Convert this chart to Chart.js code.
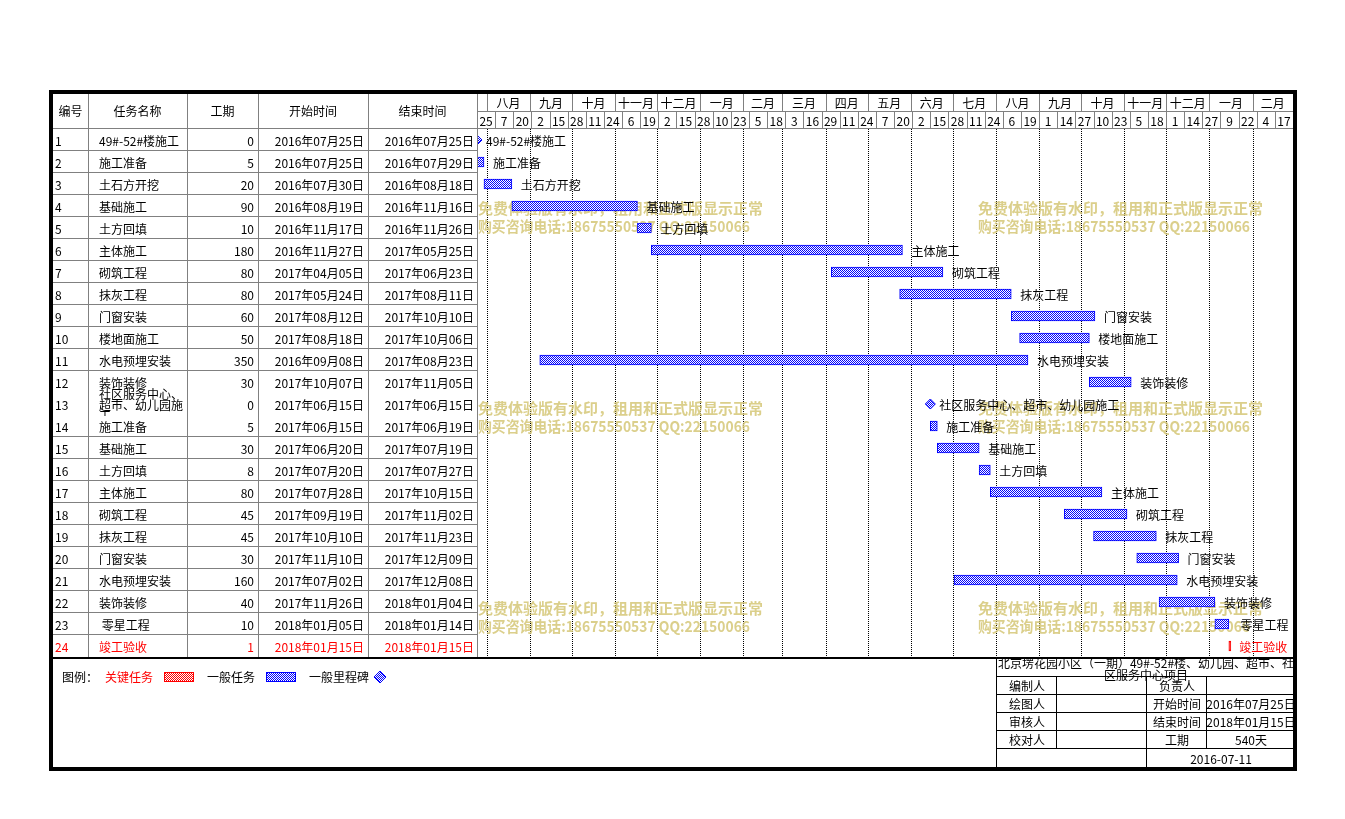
<!DOCTYPE html>
<html><head><meta charset="utf-8">
<script src="https://cdn.jsdelivr.net/npm/chart.js@4.4.0/dist/chart.umd.min.js"></script>
<style>html,body{margin:0;padding:0;background:#fff;}#wrap{width:1345px;height:819px;position:relative;}</style>
</head><body><div id="wrap"><canvas id="c"></canvas></div>
<script>
// ---------- DATA ----------
const ids = ['1','2','3','4','5','6','7','8','9','10','11','12','13','14','15','16','17','18','19','20','21','22','23','24'];
const names = ['49#-52#楼施工','施工准备','土石方开挖','基础施工','土方回填','主体施工','砌筑工程','抹灰工程','门窗安装','楼地面施工','水电预埋安装','装饰装修','社区服务中心、超市、幼儿园施工','施工准备','基础施工','土方回填','主体施工','砌筑工程','抹灰工程','门窗安装','水电预埋安装','装饰装修',' 零星工程','竣工验收'];
const durations = [0,5,20,90,10,180,80,80,60,50,350,30,0,5,30,8,80,45,45,30,160,40,10,1];
const startDates = ['2016-07-25','2016-07-25','2016-07-30','2016-08-19','2016-11-17','2016-11-27','2017-04-05','2017-05-24','2017-08-12','2017-08-18','2016-09-08','2017-10-07','2017-06-15','2017-06-15','2017-06-20','2017-07-20','2017-07-28','2017-09-19','2017-10-10','2017-11-10','2017-07-02','2017-11-26','2018-01-05','2018-01-15'];
const endDates = ['2016-07-25','2016-07-29','2016-08-18','2016-11-16','2016-11-26','2017-05-25','2017-06-23','2017-08-11','2017-10-10','2017-10-06','2017-08-23','2017-11-05','2017-06-15','2017-06-19','2017-07-19','2017-07-27','2017-10-15','2017-11-02','2017-11-23','2017-12-09','2017-12-08','2018-01-04','2018-01-14','2018-01-15'];
const criticalRows = ['24'];
const monthLabels = ['八月','九月','十月','十一月','十二月','一月','二月','三月','四月','五月','六月','七月','八月','九月','十月','十一月','十二月','一月','二月'];
const dayTicks = [25,7,20,2,15,28,11,24,6,19,2,15,28,10,23,5,18,3,16,29,11,24,7,20,2,15,28,11,24,6,19,1,14,27,10,23,5,18,1,14,27,9,22,4,17];
const headers = ['编号','任务名称','工期','开始时间','结束时间'];
const projectTitle = '北京塄花园小区（一期）49#-52#楼、幼儿园、超市、社区服务中心项目';
const infoLeft = ['编制人','绘图人','审核人','校对人'];
const infoRightLabels = ['负责人','开始时间','结束时间','工期'];
const infoRightValues = ['','2016年07月25日','2018年01月15日','540天'];
const printDate = '2016-07-11';
const legendItems = ['关键任务','一般任务','一般里程碑'];
const watermark1 = '免费体验版有水印，租用和正式版显示正常';
const watermark2 = '购买咨询电话:18675550537 QQ:22150066';

// ---------- helpers ----------
const ORIGIN = Date.UTC(2016,6,25);
function dayOf(s){const p=s.split('-').map(Number);return (Date.UTC(p[0],p[1]-1,p[2])-ORIGIN)/86400000;}
const SPAN_DAYS = dayTicks.length*13;
function fmtDate(s){const p=s.split('-');return p[0]+'年'+p[1]+'月'+p[2]+'日';}

function makePattern(color){
  const c=document.createElement('canvas');c.width=2;c.height=2;
  const g=c.getContext('2d');g.fillStyle='#fff';g.fillRect(0,0,2,2);
  g.fillStyle=color;g.fillRect(0,0,1,1);g.fillRect(1,1,1,1);
  return document.createElement('canvas').getContext('2d').createPattern(c,'repeat');
}
const bluePat = makePattern('#0000ff');
const redPat = makePattern('#ff0000');

const normalData = ids.map((id,i)=> (durations[i]>0 && !criticalRows.includes(id)) ? [dayOf(startDates[i]), dayOf(endDates[i])+1] : null);
const critData = ids.map((id,i)=> (durations[i]>0 && criticalRows.includes(id)) ? [dayOf(startDates[i]), dayOf(endDates[i])+1] : null);
const msData = [];
ids.forEach((id,i)=>{ if(durations[i]===0) msData.push({x:dayOf(startDates[i]), y:id}); });

const FONT = '"Noto Sans CJK SC", "Noto Sans", sans-serif';

function wrapText(ctx, text, maxW){
  const lines=[];let cur='';
  for(const ch of text){
    if(ctx.measureText(cur+ch).width>maxW && cur){lines.push(cur);cur=ch;} else cur+=ch;
  }
  if(cur) lines.push(cur);
  return lines;
}
function hline(ctx,x1,x2,y){ctx.beginPath();ctx.moveTo(x1,y+0.5);ctx.lineTo(x2,y+0.5);ctx.stroke();}
function vline(ctx,x,y1,y2){ctx.beginPath();ctx.moveTo(x+0.5,y1);ctx.lineTo(x+0.5,y2);ctx.stroke();}

function monthBounds(){
  const res=[];let y=2016,m=7;
  while(res.length<monthLabels.length){const d=(Date.UTC(y,m,1)-ORIGIN)/86400000; if(d>=SPAN_DAYS) break; res.push(d); m++; if(m>11){m=0;y++;}}
  return res;
}

const bgPlugin = {
  id:'bg',
  beforeDraw(chart){const c=chart.ctx;c.save();c.fillStyle='#fff';c.fillRect(0,0,chart.width,chart.height);c.restore();}
};

const gridPlugin = {
  id:'grid',
  beforeDatasetsDraw(chart){
    const c=chart.ctx, xs=chart.scales.x, a=chart.chartArea;
    c.save();
    c.strokeStyle='#000';c.lineWidth=1;c.setLineDash([1,1]);
    monthBounds().forEach(d=>{const px=Math.round(xs.getPixelForValue(d));vline(c,px,a.top,a.bottom);});
    c.setLineDash([]);
    c.fillStyle='rgba(210,195,110,0.8)';
    c.font='bold 15px '+FONT;c.textBaseline='middle';c.textAlign='left';
    [[478,208],[978,208],[478,408],[978,408],[478,608],[978,608]].forEach(p=>{
      c.fillText(watermark1,p[0],p[1],285);c.fillText(watermark2,p[0],p[1]+18,272);
    });
    c.restore();
  }
};

const labelPlugin = {
  id:'barLabels',
  afterDatasetsDraw(chart){
    const c=chart.ctx, xs=chart.scales.x, ys=chart.scales.y;
    c.save();c.font='12px '+FONT;c.textBaseline='middle';c.textAlign='left';
    ids.forEach((id,i)=>{
      const yy=ys.getPixelForValue(i);
      let xe;
      if(durations[i]===0) xe=xs.getPixelForValue(dayOf(startDates[i]))+9;
      else xe=xs.getPixelForValue(dayOf(endDates[i])+1)+9;
      c.fillStyle=criticalRows.includes(id)?'#ff0000':'#000';
      c.fillText(names[i],xe,yy+1);
    });
    c.restore();
  }
};

const tablePlugin = {
  id:'table',
  afterDraw(chart){
    const c=chart.ctx, xs=chart.scales.x, ys=chart.scales.y, a=chart.chartArea;
    const L=53, R=a.right, HT=93, HM=112, HB=a.top, B=a.bottom;
    const colX=[L,88,187,258,368,a.left];
    const rowH=(a.bottom-a.top)/ids.length;
    c.save();
    c.lineWidth=1;c.strokeStyle='#808080';
    for(let k=1;k<colX.length;k++) vline(c,colX[k],HT,B);
    const skip=[12,13];
    for(let i=1;i<ids.length;i++){ if(skip.includes(i)) continue; const yy=Math.round(ys.getPixelForValue(i)-rowH/2); hline(c,L,colX[5],yy-1);}
    hline(c,L,R,HB-1);
    hline(c,a.left,R,HM-1);
    monthBounds().forEach(d=>{const px=Math.round(xs.getPixelForValue(d));vline(c,px,HT,HM);});
    for(let k=1;k<dayTicks.length;k++){const px=Math.round(xs.getPixelForValue(k*13));vline(c,px,HM,HB);}
    c.fillStyle='#000';c.font='12px '+FONT;c.textBaseline='middle';c.textAlign='center';
    for(let k=0;k<headers.length;k++) c.fillText(headers[k],(colX[k]+colX[k+1])/2,HT+18);
    const mb=monthBounds();
    mb.forEach((d,k)=>{const d2=k+1<mb.length?mb[k+1]:SPAN_DAYS;const px=(xs.getPixelForValue(d)+xs.getPixelForValue(d2))/2;c.fillText(monthLabels[k],px,HT+10);});
    dayTicks.forEach((t,k)=>{const px=(xs.getPixelForValue(k*13)+xs.getPixelForValue(k*13+13))/2;c.fillText(String(t),px,HM+9);});
    ids.forEach((id,i)=>{
      const yy=ys.getPixelForValue(i)+1;
      c.fillStyle=criticalRows.includes(id)?'#ff0000':'#000';
      c.textAlign='left';c.fillText(id,55,yy);
      const nm=names[i];
      if(c.measureText(nm).width>86){
        const lines=wrapText(c,nm,86);
        c.save();c.beginPath();c.rect(89,yy-23,97,34);c.clip();
        lines.forEach((ln,k)=>c.fillText(ln,99,yy+(k-(lines.length-1)/2)*11));
        c.restore();
      } else c.fillText(nm,99,yy);
      c.textAlign='right';
      c.fillText(String(durations[i]),254,yy);
      c.fillText(fmtDate(startDates[i]),364,yy);
      c.fillText(fmtDate(endDates[i]),474,yy);
    });
    c.strokeStyle='#000';c.lineWidth=2;
    c.beginPath();c.moveTo(L,B+1);c.lineTo(R,B+1);c.stroke();
    // legend
    c.lineWidth=1;c.textAlign='left';c.textBaseline='middle';
    const ly=677;
    c.fillStyle='#000';c.fillText('图例：',62,ly);
    c.fillStyle='#ff0000';c.fillText(legendItems[0],105,ly);
    c.fillStyle=redPat;c.fillRect(164,672,30,10);c.strokeStyle='#ff0000';c.strokeRect(164.5,672.5,29,9);
    c.fillStyle='#000';c.fillText(legendItems[1],207,ly);
    c.fillStyle=bluePat;c.fillRect(266,672,30,10);c.strokeStyle='#0000ff';c.strokeRect(266.5,672.5,29,9);
    c.fillStyle='#000';c.fillText(legendItems[2],309,ly);
    c.beginPath();c.moveTo(380,671);c.lineTo(386,677);c.lineTo(380,683);c.lineTo(374,677);c.closePath();
    c.fillStyle=bluePat;c.fill();c.strokeStyle='#0000ff';c.stroke();
    // info table
    c.strokeStyle='#000';c.lineWidth=1;
    const IX=997, IR=R, rowsY=[677,695,713,731,749], IB=768;
    vline(c,IX-1,B+1,IB);
    rowsY.forEach(yy=>hline(c,IX,IR,yy-1));
    vline(c,1056,677,749);vline(c,1146,677,IB);vline(c,1206,677,749);
    c.fillStyle='#000';c.textAlign='center';
    const tl=wrapText(c,projectTitle,297);
    tl.forEach((ln,k)=>c.fillText(ln,(IX+IR)/2+1,663+k*12));
    for(let k=0;k<4;k++){
      const cy=(rowsY[k]+rowsY[k+1])/2;
      c.fillText(infoLeft[k],1027,cy);
      c.fillText(infoRightLabels[k],1177,cy);
      c.fillText(infoRightValues[k],1251,cy);
    }
    c.fillText(printDate,1221,759);
    c.fillStyle='#000';
    c.fillRect(49,90,1248,4);
    c.fillRect(49,90,4,681);
    c.fillRect(1293,90,4,681);
    c.fillRect(49,767,1248,4);
    c.restore();
  }
};

const ctx=document.getElementById('c').getContext('2d');
new Chart(ctx,{
  type:'bar',
  data:{labels:ids,datasets:[
    {type:'bar',label:legendItems[1],data:normalData,backgroundColor:bluePat,borderColor:'#0000ff',borderWidth:1,borderSkipped:false,barThickness:10,grouped:false},
    {type:'bar',label:legendItems[0],data:critData,backgroundColor:'#ff0000',borderColor:'#ff0000',borderWidth:1,borderSkipped:false,barThickness:10,grouped:false,minBarLength:2},
    {type:'scatter',label:legendItems[2],data:msData,indexAxis:'y',pointStyle:'rectRot',pointRadius:5,backgroundColor:bluePat,borderColor:'#0000ff',borderWidth:1,showLine:false}
  ]},
  options:{
    indexAxis:'y',responsive:true,maintainAspectRatio:false,animation:false,events:[],
    layout:{padding:{left:477,right:52,top:129,bottom:162}},
    scales:{
      x:{type:'linear',min:0,max:SPAN_DAYS,display:false},
      y:{type:'category',display:false,offset:true}
    },
    plugins:{legend:{display:false},tooltip:{enabled:false}}
  },
  plugins:[bgPlugin,gridPlugin,labelPlugin,tablePlugin]
});
</script></body></html>
